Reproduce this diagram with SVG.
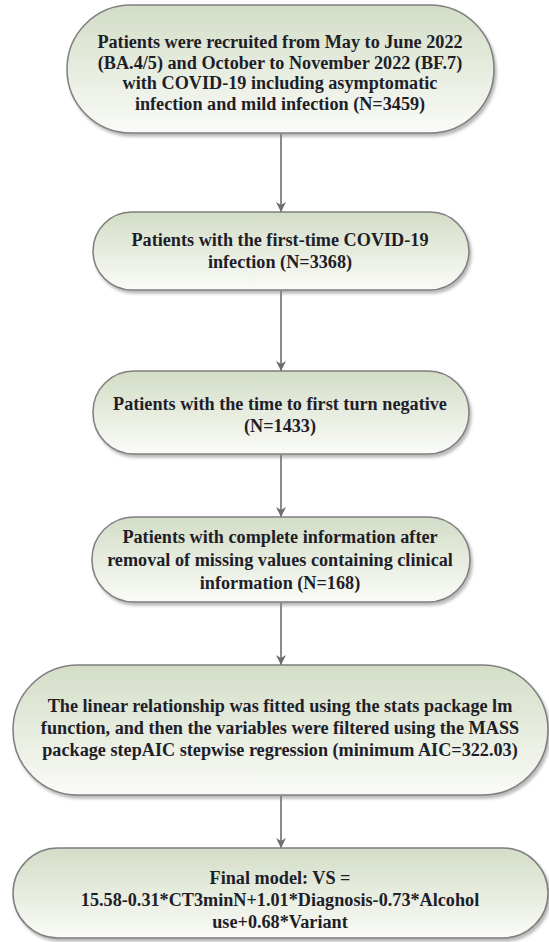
<svg xmlns="http://www.w3.org/2000/svg" width="549" height="942" viewBox="0 0 549 942">
<defs>
<linearGradient id="g" x1="0" y1="0" x2="0" y2="1">
<stop offset="0" stop-color="#d3ddc6"/>
<stop offset="1" stop-color="#fafbf8"/>
</linearGradient>
<filter id="sh" x="-5%" y="-5%" width="115%" height="120%">
<feDropShadow dx="2" dy="3" stdDeviation="1.5" flood-color="#808080" flood-opacity="0.55"/>
</filter>
<marker id="ah" viewBox="0 0 10 10" refX="10" refY="5" markerWidth="10" markerHeight="10" markerUnits="userSpaceOnUse" orient="auto">
<path d="M0,0 L10,5 L0,10 L3,5 Z" fill="#6e6e6e"/>
</marker>
<style>
.n{fill:url(#g);stroke:#7f7f7f;stroke-width:1.5;filter:url(#sh)}
.t{font-family:"Liberation Serif","Times New Roman",serif;font-weight:bold;font-size:18.2px;fill:#1e1e28;text-anchor:middle}
.c{stroke:#6e6e6e;stroke-width:1.6;fill:none;marker-end:url(#ah)}
</style>
</defs>
<g id="connectors">
<line class="c" x1="281" y1="134" x2="281" y2="212"/>
<line class="c" x1="281" y1="291" x2="281" y2="371"/>
<line class="c" x1="281" y1="455" x2="281" y2="517"/>
<line class="c" x1="281" y1="603" x2="281" y2="665"/>
<line class="c" x1="281" y1="796" x2="281" y2="848"/>
</g>
<g id="node1">
<rect class="n" x="67" y="5" width="427" height="128" rx="64" ry="64"/>
<text class="t" x="280" y="48">Patients were recruited from May to June 2022</text>
<text class="t" x="280" y="68.5">(BA.4/5) and October to November 2022 (BF.7)</text>
<text class="t" x="280" y="89">with COVID-19 including asymptomatic</text>
<text class="t" x="280" y="109.5">infection and mild infection (N=3459)</text>
</g>
<g id="node2">
<rect class="n" x="93" y="212" width="376" height="78" rx="39" ry="39"/>
<text class="t" x="280" y="246">Patients with the first-time COVID-19</text>
<text class="t" x="280" y="268">infection (N=3368)</text>
</g>
<g id="node3">
<rect class="n" x="93" y="371" width="376" height="83" rx="41" ry="41"/>
<text class="t" x="280" y="410">Patients with the time to first turn negative</text>
<text class="t" x="280" y="432">(N=1433)</text>
</g>
<g id="node4">
<rect class="n" x="92" y="517" width="378" height="85" rx="42" ry="42"/>
<text class="t" x="280" y="543">Patients with complete information after</text>
<text class="t" x="280" y="566">removal of missing values containing clinical</text>
<text class="t" x="280" y="589">information (N=168)</text>
</g>
<g id="node5">
<rect class="n" x="13" y="665" width="535" height="130" rx="65" ry="65"/>
<text class="t" x="280" y="712">The linear relationship was fitted using the stats package lm</text>
<text class="t" x="280" y="734">function, and then the variables were filtered using the MASS</text>
<text class="t" x="280" y="756">package stepAIC stepwise regression (minimum AIC=322.03)</text>
</g>
<g id="node6">
<rect class="n" x="13" y="848" width="535" height="90" rx="45" ry="45"/>
<text class="t" x="280" y="884">Final model: VS =</text>
<text class="t" x="280" y="906">15.58-0.31*CT3minN+1.01*Diagnosis-0.73*Alcohol</text>
<text class="t" x="280" y="928">use+0.68*Variant</text>
</g>
</svg>
